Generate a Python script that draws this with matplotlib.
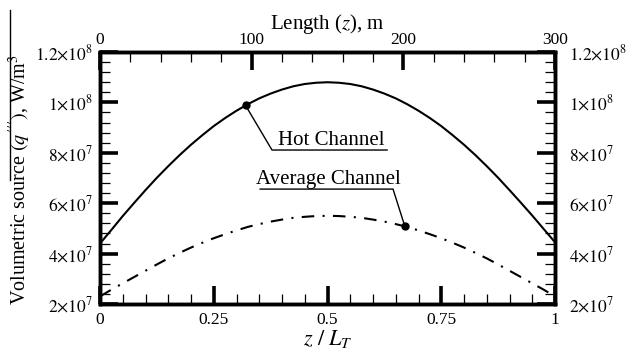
import numpy as np
import matplotlib
matplotlib.use('Agg')
import matplotlib.pyplot as plt
from matplotlib.lines import Line2D
from matplotlib.ticker import MultipleLocator

plt.rcParams['font.family'] = ['Liberation Serif', 'DejaVu Serif']
plt.rcParams['mathtext.fontset'] = 'stix'

# data (q''' in units of 1e7 W/m3)
z = [0, 0.025, 0.05, 0.075, 0.1, 0.125, 0.15, 0.175, 0.2, 0.225, 0.25,
     0.275, 0.3, 0.325, 0.35, 0.375, 0.4, 0.425, 0.45, 0.475, 0.5,
     0.525, 0.55, 0.575, 0.6, 0.625, 0.65, 0.675, 0.7, 0.725, 0.75,
     0.775, 0.8, 0.825, 0.85, 0.875, 0.9, 0.925, 0.95, 0.975, 1.0]
hot = [4.40, 4.94, 5.49, 6.01, 6.52, 7.01, 7.47, 7.91, 8.32, 8.70, 9.06,
       9.38, 9.67, 9.93, 10.16, 10.35, 10.51, 10.64, 10.73, 10.78, 10.80,
       10.78, 10.73, 10.64, 10.51, 10.35, 10.16, 9.93, 9.67, 9.38, 9.06,
       8.70, 8.32, 7.91, 7.47, 7.01, 6.52, 6.02, 5.51, 4.98, 4.45]
avg = [2.30, 2.57, 2.82, 3.07, 3.32, 3.57, 3.81, 4.03, 4.24, 4.43, 4.61,
       4.77, 4.92, 5.06, 5.17, 5.27, 5.35, 5.42, 5.46, 5.49, 5.50,
       5.49, 5.46, 5.42, 5.35, 5.27, 5.17, 5.06, 4.92, 4.77, 4.61,
       4.43, 4.24, 4.03, 3.81, 3.57, 3.32, 3.07, 2.82, 2.57, 2.30]
hot = np.array(hot) * 1e7
avg = np.array(avg) * 1e7

hot_mark_z = 0.32
avg_mark_z = 0.67

yticks = [2e7, 4e7, 6e7, 8e7, 1e8, 1.2e8]
ytick_labels = [r'$2{\times}10^{7}$', r'$4{\times}10^{7}$', r'$6{\times}10^{7}$',
                r'$8{\times}10^{7}$', r'$1{\times}10^{8}$', r'$1.2{\times}10^{8}$']
xticks = [0, 0.25, 0.5, 0.75, 1]
xtick_labels = ['0', '0.25', '0.5', '0.75', '1']
top_ticks = [0, 100, 200, 300]
top_labels = ['0', '100', '200', '300']

fig = plt.figure(figsize=(6.26, 3.56), dpi=100)
ax = fig.add_axes([100/626, 1-304/356, 455/626, 252/356])

ax.plot(z, hot, color='black', lw=1.5)
ax.plot(z, avg, color='black', lw=1.5, linestyle=(0, (6, 4, 1, 4)))

hy = np.interp(hot_mark_z, z, hot)
ay = np.interp(avg_mark_z, z, avg)
ax.plot([hot_mark_z], [hy], 'o', color='black', ms=5)
ax.plot([avg_mark_z], [ay], 'o', color='black', ms=5)

# labels with leader lines
ax.plot([hot_mark_z, 0.378, 0.631], [hy, 8.11e7, 8.11e7], color='black', lw=1)
ax.text(0.391, 8.13e7, 'Hot Channel', fontsize=15, ha='left', va='bottom')
ax.plot([0.352, 0.644, avg_mark_z], [6.56e7, 6.56e7, ay], color='black', lw=1)
ax.text(0.343, 6.58e7, 'Average Channel', fontsize=15, ha='left', va='bottom')

ax.set_xlim(0, 1)
ax.set_ylim(2e7, 1.2e8)
ax.set_xticks(xticks)
ax.set_xticklabels(xtick_labels)
ax.set_yticks(yticks)
ax.set_yticklabels(ytick_labels)
ax.xaxis.set_minor_locator(MultipleLocator(0.05))
ax.yaxis.set_minor_locator(MultipleLocator(4e6))
ax.tick_params(which='major', direction='in', length=13, width=2.6,
               labelsize=12.5, left=True, right=False, bottom=True, top=False)
ax.tick_params(which='minor', direction='in', length=7, width=0.9,
               left=True, right=False, bottom=True, top=False)
ax.tick_params(axis='x', pad=6)
ax.tick_params(axis='y', pad=5)
for s in ax.spines.values():
    s.set_linewidth(2.4)

ax.set_xlabel(r'$z\ /\ L_T$', fontsize=16, labelpad=0)

rt = ax.twinx()
rt.set_ylim(2e7, 1.2e8)
rt.set_yticks(yticks)
rt.set_yticklabels(ytick_labels)
rt.yaxis.set_minor_locator(MultipleLocator(4e6))
rt.tick_params(which='major', direction='in', length=13, width=2.6,
               labelsize=12.5, pad=10)
rt.tick_params(which='minor', direction='in', length=7, width=0.9)

top = ax.twiny()
top.set_xlim(0, 300)
top.set_xticks(top_ticks)
top.set_xticklabels(top_labels)
top.xaxis.set_minor_locator(MultipleLocator(20))
top.tick_params(which='major', direction='in', length=13, width=2.6,
                labelsize=12.5, pad=3)
top.tick_params(which='minor', direction='in', length=7, width=0.9)
top.set_xlabel(r'Length ($z$), m', fontsize=15, labelpad=2)
for a in (rt, top):
    for s in a.spines.values():
        s.set_linewidth(2.4)

fig.text(19.5/626, 1-180/356, r'Volumetric source $(q^{\prime\prime\prime})$, W/m$^3$',
         rotation=90, fontsize=14.5, ha='center', va='center')
fig.add_artist(Line2D([10/626, 10/626], [1-10/356, 1-180/356],
                      transform=fig.transFigure, color='black', lw=1))

fig.savefig('out.png', dpi=100)
